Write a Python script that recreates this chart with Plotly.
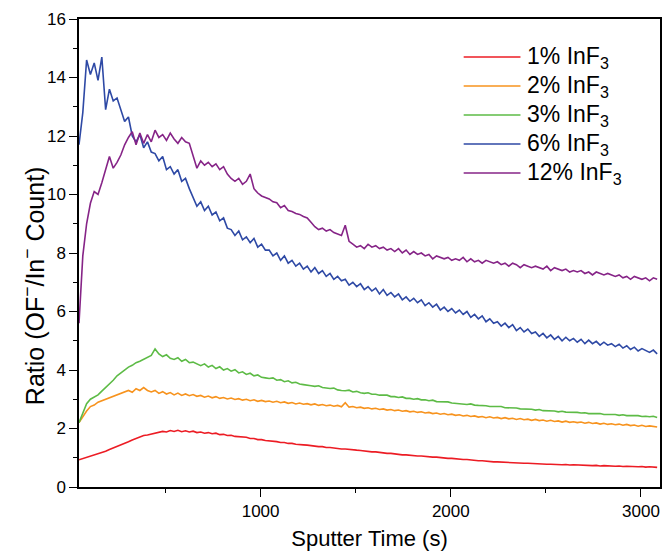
import plotly.graph_objects as go

# Sputter time axis (s): one reading every 20 s
time_s = list(range(45, 3100, 20))

ratio_1pct = [
    0.93, 0.97, 1.02, 1.05, 1.1, 1.13, 1.19, 1.22, 1.28, 1.33,
    1.38, 1.44, 1.5, 1.55, 1.61, 1.66, 1.7, 1.76, 1.78, 1.81,
    1.84, 1.87, 1.9, 1.88, 1.93, 1.9, 1.94, 1.89, 1.92, 1.88,
    1.91, 1.86, 1.88, 1.84, 1.86, 1.82, 1.84, 1.79, 1.8, 1.76,
    1.77, 1.73, 1.72, 1.7, 1.7, 1.66, 1.66, 1.62, 1.62, 1.59,
    1.58, 1.56, 1.55, 1.52, 1.52, 1.49, 1.49, 1.46, 1.46, 1.44,
    1.43, 1.41, 1.41, 1.38, 1.38, 1.35, 1.35, 1.33, 1.33, 1.3,
    1.3, 1.28, 1.28, 1.26, 1.25, 1.23, 1.23, 1.2, 1.2, 1.18,
    1.18, 1.15, 1.15, 1.13, 1.13, 1.1, 1.1, 1.08, 1.08, 1.06,
    1.06, 1.04, 1.04, 1.02, 1.02, 1.0, 1.0, 0.98, 0.98, 0.96,
    0.96, 0.94, 0.94, 0.92, 0.92, 0.9, 0.9, 0.88, 0.88, 0.86,
    0.86, 0.85, 0.85, 0.83, 0.84, 0.82, 0.82, 0.81, 0.81, 0.8,
    0.8, 0.79, 0.79, 0.78, 0.78, 0.77, 0.78, 0.76, 0.77, 0.75,
    0.76, 0.75, 0.75, 0.74, 0.74, 0.73, 0.74, 0.72, 0.73, 0.72,
    0.72, 0.71, 0.72, 0.7, 0.71, 0.7, 0.7, 0.69, 0.7, 0.68,
    0.69, 0.68, 0.67,
]

ratio_2pct = [
    2.2, 2.4, 2.6, 2.75, 2.8, 2.9, 2.95, 3.0, 3.05, 3.1,
    3.15, 3.22, 3.25, 3.3, 3.24, 3.36, 3.3, 3.4, 3.3, 3.25,
    3.3, 3.2, 3.26, 3.18, 3.23, 3.15, 3.21, 3.13, 3.18, 3.12,
    3.16, 3.1, 3.13, 3.07, 3.11, 3.05, 3.09, 3.03, 3.06, 3.01,
    3.04, 2.99, 3.02, 2.97, 3.0, 2.95, 2.98, 2.93, 2.96, 2.92,
    2.94, 2.9, 2.93, 2.88, 2.91, 2.86, 2.89, 2.84, 2.87, 2.83,
    2.85, 2.81, 2.84, 2.79, 2.82, 2.78, 2.8, 2.76, 2.79, 2.74,
    2.88, 2.73, 2.75, 2.71, 2.73, 2.69, 2.71, 2.67, 2.69, 2.65,
    2.67, 2.63, 2.65, 2.61, 2.63, 2.59, 2.61, 2.57, 2.59, 2.55,
    2.57, 2.53, 2.55, 2.51, 2.53, 2.49, 2.51, 2.47, 2.49, 2.45,
    2.47, 2.43, 2.45, 2.41, 2.43, 2.39, 2.41, 2.37, 2.4, 2.36,
    2.38, 2.34, 2.37, 2.33, 2.35, 2.31, 2.34, 2.3, 2.32, 2.28,
    2.31, 2.27, 2.29, 2.25, 2.28, 2.24, 2.26, 2.22, 2.25, 2.21,
    2.23, 2.2, 2.22, 2.18, 2.21, 2.17, 2.19, 2.15, 2.18, 2.14,
    2.16, 2.13, 2.15, 2.11, 2.14, 2.1, 2.12, 2.08, 2.11, 2.07,
    2.09, 2.06, 2.05,
]

ratio_3pct = [
    2.2, 2.55, 2.85, 3.0, 3.08, 3.15, 3.28, 3.4, 3.52, 3.65,
    3.8, 3.9, 4.02, 4.1, 4.16, 4.25, 4.3, 4.37, 4.45, 4.5,
    4.72, 4.55, 4.46, 4.52, 4.4, 4.36, 4.42, 4.3, 4.36, 4.25,
    4.27, 4.2, 4.15, 4.21, 4.1, 4.16, 4.05, 4.11, 4.0, 4.05,
    3.96, 4.01, 3.9, 3.94, 3.85, 3.89, 3.8, 3.83, 3.75, 3.73,
    3.71, 3.73, 3.65, 3.67, 3.6, 3.63, 3.56, 3.58, 3.52, 3.5,
    3.49, 3.46, 3.44, 3.46, 3.4, 3.38, 3.37, 3.38, 3.32, 3.3,
    3.29, 3.31, 3.25, 3.27, 3.22, 3.2, 3.22, 3.17, 3.17, 3.14,
    3.13, 3.14, 3.09, 3.09, 3.06, 3.08, 3.03, 3.03, 3.0, 3.02,
    2.98, 2.98, 2.95, 2.97, 2.92, 2.92, 2.9, 2.91, 2.87, 2.86,
    2.86, 2.84, 2.82, 2.84, 2.8, 2.79, 2.79, 2.78, 2.75, 2.75,
    2.73, 2.75, 2.71, 2.71, 2.69, 2.7, 2.67, 2.67, 2.65, 2.66,
    2.63, 2.65, 2.61, 2.61, 2.6, 2.6, 2.57, 2.59, 2.56, 2.56,
    2.55, 2.55, 2.53, 2.54, 2.51, 2.51, 2.5, 2.51, 2.48, 2.48,
    2.47, 2.48, 2.45, 2.47, 2.44, 2.44, 2.43, 2.44, 2.41, 2.42,
    2.4, 2.42, 2.38,
]

ratio_6pct = [
    11.7, 12.8, 14.6, 14.1, 14.5, 13.9, 14.7, 12.9, 13.6, 13.2,
    13.3, 12.9, 12.5, 12.65, 12.0, 11.8, 12.05, 11.6, 11.8, 11.45,
    11.4, 11.15, 11.3, 10.85, 10.95, 10.7, 10.85, 10.45, 10.55, 10.2,
    9.9, 9.6, 9.75, 9.45, 9.6, 9.3, 9.4, 9.1, 9.2, 8.85,
    8.8, 8.6, 8.75, 8.45, 8.55, 8.35, 8.5, 8.2, 8.3, 8.1,
    8.1, 7.9, 8.0, 7.75, 7.9, 7.65, 7.75, 7.55, 7.65, 7.45,
    7.55, 7.35, 7.5, 7.3, 7.4, 7.2, 7.3, 7.1, 7.2, 7.05,
    7.1, 6.9, 7.0, 6.85, 6.95, 6.75, 6.85, 6.7, 6.8, 6.6,
    6.75, 6.55, 6.65, 6.5, 6.6, 6.4, 6.5, 6.35, 6.45, 6.3,
    6.4, 6.2, 6.3, 6.15, 6.25, 6.05, 6.15, 6.0, 6.1, 5.95,
    6.05, 5.9, 6.0, 5.8, 5.9, 5.75, 5.85, 5.65, 5.75, 5.6,
    5.65, 5.5, 5.6, 5.45, 5.55, 5.35, 5.45, 5.3, 5.4, 5.25,
    5.3, 5.15, 5.25, 5.1, 5.2, 5.05, 5.15, 5.0, 5.12, 5.0,
    5.08, 4.95, 5.05, 4.9, 5.02, 4.9, 4.98, 4.85, 4.95, 4.85,
    4.9, 4.8, 4.88, 4.75, 4.83, 4.7, 4.78, 4.65, 4.73, 4.65,
    4.6, 4.68, 4.55,
]

ratio_12pct = [
    5.6, 7.9, 9.0, 9.7, 10.1, 10.0, 10.4, 10.9, 11.3, 10.9,
    11.1, 11.35, 11.7, 11.95, 12.15, 11.7, 12.1, 11.75, 12.05, 11.8,
    12.2, 11.95, 12.05, 11.85, 12.1, 11.9, 11.75, 11.95, 11.8, 11.75,
    11.3, 10.9, 11.15, 11.0, 11.1, 10.95, 11.05, 10.85, 10.95, 10.7,
    10.55, 10.45, 10.55, 10.35, 10.45, 10.7, 10.2, 10.05, 9.95, 9.9,
    9.85, 9.75, 9.72, 9.55, 9.62, 9.45, 9.42, 9.35, 9.32, 9.25,
    9.2, 9.05, 8.9, 8.8, 8.85, 8.75, 8.8, 8.7, 8.66, 8.6,
    8.95, 8.4, 8.3, 8.2, 8.25, 8.15, 8.3, 8.2, 8.25, 8.15,
    8.2, 8.1, 8.15, 8.05, 8.15, 8.0, 8.1, 7.95, 8.05, 7.95,
    8.0, 7.9, 7.95, 7.8, 7.9, 7.85, 7.8, 7.85, 7.75, 7.8,
    7.75, 7.85, 7.7, 7.8, 7.7, 7.75, 7.65, 7.75, 7.7, 7.65,
    7.7, 7.6, 7.65, 7.55, 7.65, 7.6, 7.5, 7.6, 7.55, 7.5,
    7.55, 7.5, 7.45, 7.55, 7.4, 7.5, 7.45, 7.4, 7.45, 7.35,
    7.4, 7.35, 7.4, 7.3, 7.35, 7.25, 7.35, 7.3, 7.25, 7.3,
    7.25, 7.2, 7.25, 7.15, 7.2, 7.1, 7.2, 7.15, 7.1, 7.15,
    7.05, 7.15, 7.1,
]

series_labels = ["1% InF<sub>3</sub>", "2% InF<sub>3</sub>", "3% InF<sub>3</sub>",
                 "6% InF<sub>3</sub>", "12% InF<sub>3</sub>"]
series_values = [ratio_1pct, ratio_2pct, ratio_3pct, ratio_6pct, ratio_12pct]
series_colors = ["#EC1C24", "#F7931E", "#5DBB46", "#2E49A5", "#862487"]

FONT = "Liberation Sans, Arial, sans-serif"

# plot-area geometry in pixels, used to place the key
W, H = 667, 556
M_L, M_R, M_T, M_B = 79, 5, 19, 69
PW, PH = W - M_L - M_R, H - M_T - M_B


def px_x(px):
    return (px - M_L) / PW


def px_y(py):
    return (H - M_B - py) / PH


fig = go.Figure()
for label, vals, color in zip(series_labels, series_values, series_colors):
    fig.add_trace(go.Scatter(
        x=time_s, y=vals, mode="lines", name=label,
        line=dict(color=color, width=1.6),
    ))

axis_common = dict(
    showline=True, linecolor="black", linewidth=1.5, mirror=True,
    showgrid=False, zeroline=False,
    ticks="outside", ticklen=8, tickwidth=1.3, tickcolor="black",
    tickfont=dict(family=FONT, size=17, color="black"),
)

fig.update_xaxes(
    range=[45, 3100], tick0=0, dtick=1000,
    minor=dict(ticks="outside", ticklen=4, tickwidth=1.3, tickcolor="black",
               dtick=500, tick0=0, showgrid=False),
    title=dict(text="Sputter Time (s)", font=dict(family=FONT, size=22, color="black"),
               standoff=10),
    **axis_common,
)
fig.update_yaxes(
    range=[0, 16], tick0=0, dtick=2,
    minor=dict(ticks="outside", ticklen=4, tickwidth=1.3, tickcolor="black",
               dtick=1, tick0=0, showgrid=False),
    **axis_common,
)

# y-axis title
fig.add_annotation(
    text="Ratio (OF<sup>−</sup>/In<sup>−</sup> Count)",
    xref="paper", yref="paper", x=px_x(33), y=px_y(286),
    xanchor="center", yanchor="middle", textangle=-90, showarrow=False,
    font=dict(family=FONT, size=25, color="black"),
)

# key: coloured line sample + label per series
for i, (label, color) in enumerate(zip(series_labels, series_colors)):
    row_y = px_y(57 + 29 * i)
    fig.add_shape(type="line", xref="paper", yref="paper",
                  x0=px_x(465), x1=px_x(522), y0=row_y, y1=row_y,
                  line=dict(color=color, width=1.6))
    fig.add_annotation(text=label, xref="paper", yref="paper",
                       x=px_x(527), y=row_y, xanchor="left", yanchor="middle",
                       showarrow=False,
                       font=dict(family=FONT, size=23, color="black"))

fig.update_layout(
    width=W, height=H,
    margin=dict(l=M_L, r=M_R, t=M_T, b=M_B),
    paper_bgcolor="white", plot_bgcolor="white",
    showlegend=False,
)

fig.write_html("out.html")
